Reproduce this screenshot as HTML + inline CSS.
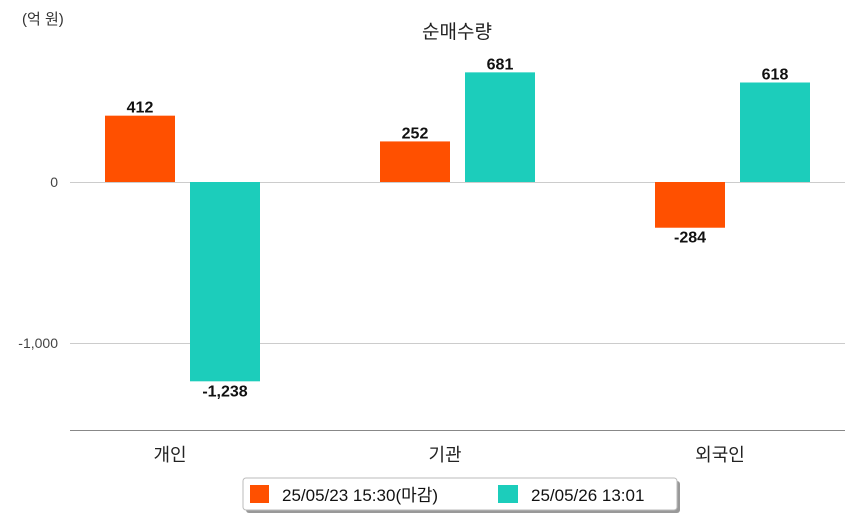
<!DOCTYPE html>
<html><head><meta charset="utf-8"><style>
body{margin:0;background:#fff;}
svg{display:block;font-family:"Liberation Sans","Noto Sans CJK KR",sans-serif;}
</style></head><body>
<svg id="c" width="854" height="520">
<text x="22" y="24" font-size="15" fill="#333">(억 원)</text>
<text x="457" y="38" font-size="19" fill="#222" text-anchor="middle">순매수량</text>
<g id="grid"></g><g id="bars"></g>
<line x1="70" y1="430.5" x2="845" y2="430.5" stroke="#888" stroke-width="1"/>
<g>
<rect x="246" y="481" width="434" height="32" rx="3" fill="#999"/>
<rect x="243" y="478" width="434" height="32" rx="3" fill="#fff" stroke="#bbb"/>
<rect x="250" y="485" width="19" height="18" fill="#ff5000"/>
<text x="282" y="501" font-size="17" fill="#111">25/05/23 15:30(마감)</text>
<rect x="498" y="485" width="20" height="18" fill="#1ccdbb"/>
<text x="531" y="501" font-size="17" fill="#111">25/05/26 13:01</text>
</g>
</svg>
<script>
const categories=["개인","기관","외국인"];
const series0523=[412,252,-284];
const series0526=[-1238,681,618];
const yTicks=[0,-1000];
const yTickLabels=["0","-1,000"];
const NS="http://www.w3.org/2000/svg";
const y=v=>182-v*0.161;
const cx=i=>182+i*275;
const grid=document.getElementById('grid'),bars=document.getElementById('bars');
function mk(tag,a,p){const e=document.createElementNS(NS,tag);for(const k in a)e.setAttribute(k,a[k]);p.appendChild(e);return e;}
yTicks.forEach((t,i)=>{
 const l=mk('line',{x1:70,x2:845,y1:y(t)+0.5,y2:y(t)+0.5,stroke:'#ccc'},grid);
 
 
 const tx=mk('text',{x:58,y:y(t)+5,'font-size':14,fill:'#444','text-anchor':'end'},grid);
 tx.textContent=yTickLabels[i];
 
 
});
const fmt=v=>v.toLocaleString('en-US');
categories.forEach((c,i)=>{
 const lab=mk('text',{x:cx(i)-12,y:461,'font-size':18,fill:'#222','text-anchor':'middle'},bars);
 lab.textContent=c;
 
 
 [[series0523,'#ff5000',-77],[series0526,'#1ccdbb',8]].forEach(([s,col,off])=>{
  const v=s[i],x=cx(i)+off,top=Math.min(y(v),y(0)),h=Math.abs(y(v)-y(0));
  const r=mk('rect',{x:x,y:top,width:70,height:h,fill:col},bars);
  
  
  const t=mk('text',{x:x+35,y:v>=0?y(v)-3:y(v)+15,'font-size':16,'font-weight':'bold',fill:'#111','text-anchor':'middle'},bars);
  t.textContent=fmt(v);
  
  
 });
});
</script>
</body></html>
